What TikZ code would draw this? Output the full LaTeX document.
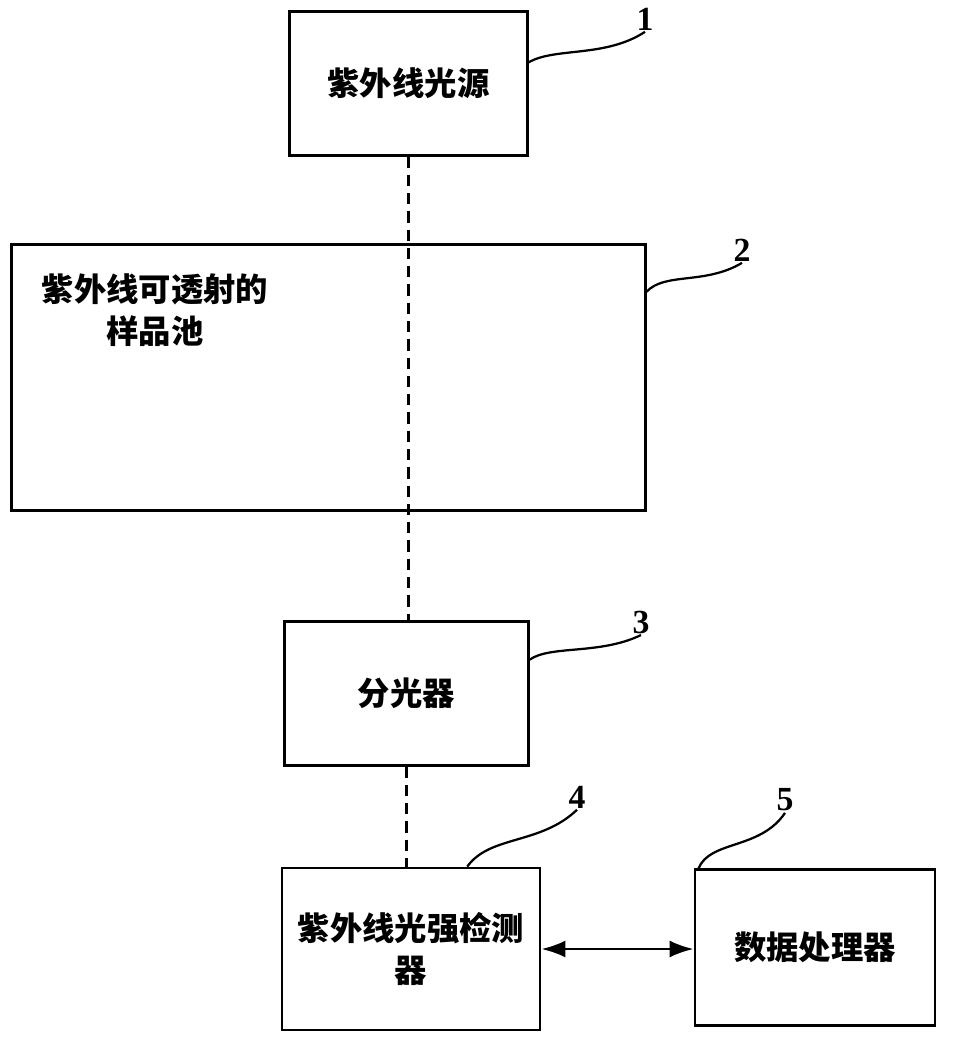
\documentclass[tikz,border=0pt]{standalone}
\usepackage{fontspec}
\setmainfont{Liberation Serif}
\newfontfamily\cjk{Noto Sans CJK SC}
\usetikzlibrary{arrows.meta}

\tikzset{
  unit/.style={draw, line width=2pt, inner sep=2pt,
    font=\cjk\bfseries\fontsize{23}{30}\selectfont},
  beam/.style={line width=1.8pt, dash pattern=on 8pt off 5pt},
  lead/.style={line width=1.6pt},
  tag/.style={font=\bfseries\fontsize{24}{28}\selectfont, inner sep=1pt},
  twoway/.style={line width=1.8pt,
    {Latex[length=17pt,width=12pt]}-{Latex[length=17pt,width=12pt]}},
}

\begin{document}
\begin{tikzpicture}[x=0.025cm,y=-0.025cm]
        \useasboundingbox (0,0) rectangle (963,1045);
        % boxes
        \node[unit, minimum width=5.93cm, minimum height=3.58cm] (src) at (408.5,83.5) {紫外线光源};
        \node[unit, minimum width=15.83cm, minimum height=6.63cm] (cell) at (328.5,377.5) {};
        \node[font=\cjk\bfseries\fontsize{23}{30}\selectfont, align=center] (celltxt) at (155,310) {紫外线可透射的\\样品池};
        \node[unit, minimum width=6.08cm, minimum height=3.58cm] (split) at (406.5,693.5) {分光器};
        \node[unit, minimum width=6.45cm, minimum height=4.05cm, align=center] (det) at (411,949) {紫外线光强检测\\器};
        \node[unit, minimum width=6cm, minimum height=3.88cm] (proc) at (815,947.5) {数据处理器};
        % light path
        \draw[beam] (src.south) -- (src.south |- split.north);
        \draw[beam] (split.south) -- (split.south |- det.north);
        \draw[twoway] (det.east) -- (det.east -| proc.west);
        % reference numbers
        \node[tag] (n1) at (645,19) {1};
        \node[tag] (n2) at (742,250) {2};
        \node[tag] (n3) at (641,622) {3};
        \node[tag] (n4) at (577,797) {4};
        \node[tag] (n5) at (785,800) {5};
        \draw[lead] ([yshift=15pt]src.east) .. controls (555,47) and (605,58) .. (n1.south);
        \draw[lead] ([yshift=61pt]cell.east) .. controls (665,272) and (705,285) .. (n2.south);
        \draw[lead] ([yshift=24pt]split.east) .. controls (550,645) and (600,655) .. (n3.south);
        \draw[lead] ([xshift=40pt]det.north) .. controls (490,835) and (540,845) .. (n4.south);
        \draw[lead] ([xshift=3.5pt]proc.north west) .. controls (710,840) and (760,850) .. (n5.south);
      \end{tikzpicture}
\end{document}
